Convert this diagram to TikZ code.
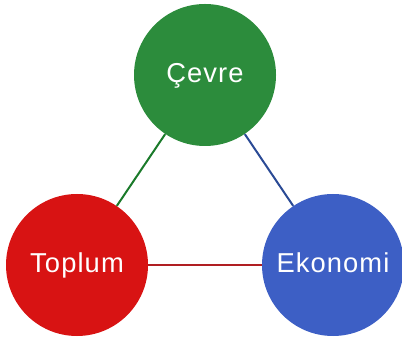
\documentclass[tikz,border=0pt]{standalone}
\usepackage{fontspec}
\setmainfont{Liberation Sans}[LetterSpace=4]
\usepackage{tikz}
\usetikzlibrary{positioning}

\definecolor{cevrefill}{HTML}{2C8C3C}
\definecolor{toplumfill}{HTML}{D81313}
\definecolor{ekonomifill}{HTML}{3D5FC5}
\definecolor{greenline}{HTML}{1A7A2A}
\definecolor{blueline}{HTML}{2A4A95}
\definecolor{redline}{HTML}{B01E22}

\tikzset{
  pillar/.style={circle, minimum size=106.5pt, inner sep=0pt, text=white,
    text height=16pt, text depth=4pt,
    font=\fontsize{20.5}{22}\selectfont},
  link/.style={line width=1.5pt}
}

\begin{document}
\begin{tikzpicture}[x=0.75pt,y=0.75pt]
\useasboundingbox (0,0) rectangle (402,338);

\node[pillar, fill=cevrefill] (cevre) at (205,263) {Çevre};
\node[pillar, fill=toplumfill] (toplum) at (77,73) {Toplum};
\node[pillar, fill=ekonomifill] (ekonomi) at (333,73) {Ekonomi};

\draw[link, greenline] (cevre) -- (toplum);
\draw[link, blueline] (cevre) -- (ekonomi);
\draw[link, redline] (toplum) -- (ekonomi);
\end{tikzpicture}
\end{document}
